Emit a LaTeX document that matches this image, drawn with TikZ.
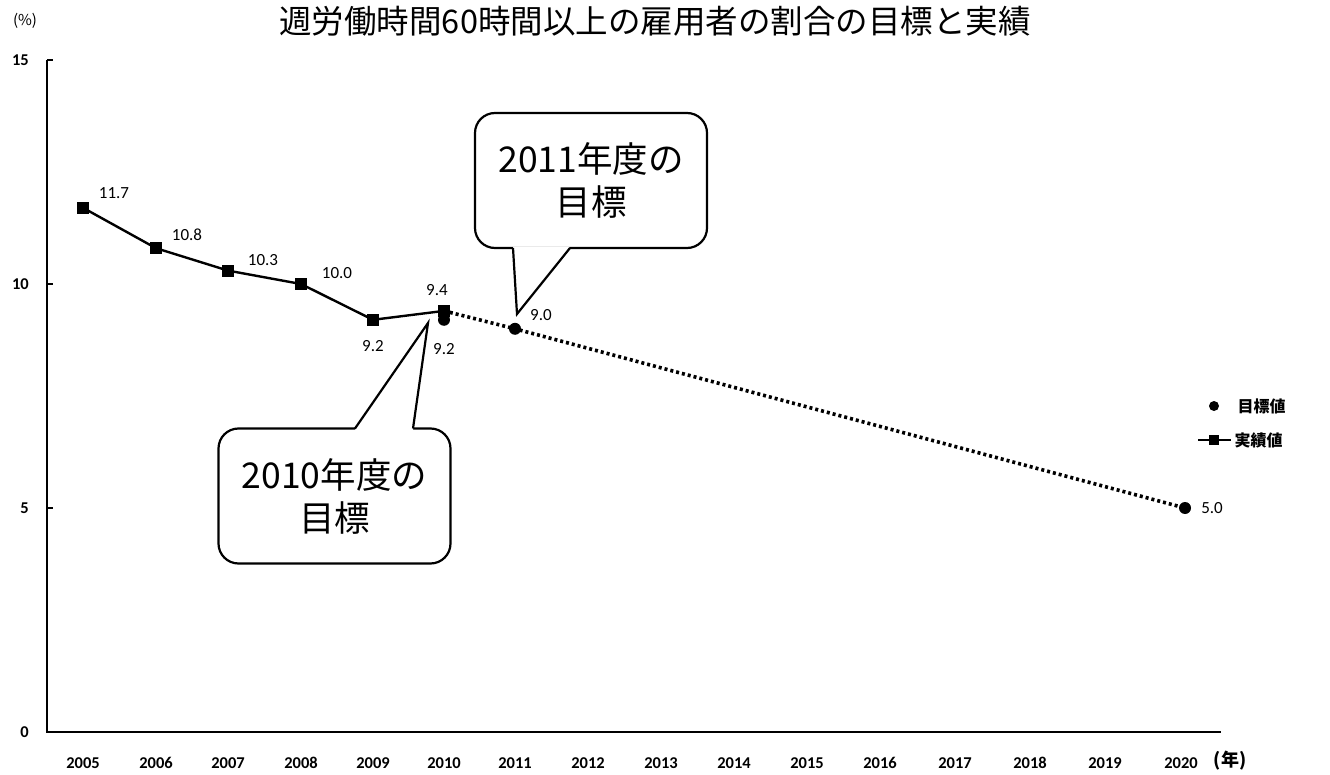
\documentclass[tikz,border=0pt]{standalone}
\usepackage{fontspec}
\setmainfont{Carlito}
\newfontfamily\jp{Noto Sans CJK JP}
\begin{document}
\begin{tikzpicture}[x=1pt,y=-1pt,
  sq/.style={rectangle,fill=black,minimum size=12pt,inner sep=0pt},
  dotm/.style={circle,fill=black,minimum size=12pt,inner sep=0pt},
  val/.style={font=\fontsize{17}{19}\selectfont,inner sep=1pt},
  tick/.style={font=\bfseries\fontsize{16.5}{18}\selectfont,inner sep=1pt},
  callout/.style={draw,line width=2.2pt,rounded corners=20pt,fill=white,
     minimum width=232pt,minimum height=135pt,align=center,
     font=\jp\fontsize{35.5}{43}\selectfont},
  actual/.style={line width=2.4pt},
  target/.style={line width=3.6pt,dash pattern=on 3pt off 3pt}]
\useasboundingbox (0,0) rectangle (1330,775);
\fill[white] (0,0) rectangle (1330,775);
% title
\node[font=\jp\fontsize{32.5}{38}\selectfont] (title) at (655,21) {週労働時間60時間以上の雇用者の割合の目標と実績};
\node[font=\jp\fontsize{15}{17}\selectfont] (pct) at (25,21) {(\%)};
% axes
\coordinate (o) at (47,732);
\coordinate (ytop) at (47,60);
\coordinate (xend) at (1221,732);
\draw[line width=1.6pt] (ytop) -- (o) -- (xend);
\foreach \v/\yy in {15/60,10/284,5/508,0/732}{
  \draw[line width=1.2pt] (47,\yy) -- (53,\yy);
  \node[tick,anchor=east] (y\v) at (30,\yy) {\v};
}
\foreach \yr/\xx in {2005/83,2006/156,2007/228,2008/301,2009/373,2010/444,2011/515,2012/588,2013/661,2014/734,2015/807,2016/880,2017/955,2018/1030,2019/1105,2020/1181}{
  \node[tick] (yr\yr) at (\xx,763) {\yr};
}
\node[font=\jp\bfseries\fontsize{18}{20}\selectfont] (nen) at (1230,761) {(年)};
% data: actual
\node[sq] (a2005) at (83,207.8) {};
\node[sq] (a2006) at (156,248.2) {};
\node[sq] (a2007) at (228,270.6) {};
\node[sq] (a2008) at (301,284) {};
\node[sq] (a2009) at (373,319.8) {};
\node[sq] (a2010) at (444,310.9) {};
% targets
\node[dotm] (t2010) at (444,319.8) {};
\node[dotm] (t2011) at (515,328.8) {};
\node[dotm] (t2020) at (1185,508) {};
\draw[actual] (a2005.center) -- (a2006.center) -- (a2007.center) -- (a2008.center) -- (a2009.center) -- (a2010.center);
\draw[target] (a2010.center) -- (t2011.center) -- (t2020.center);
% value labels
\node[val] (l2005) at (114,193) {11.7};
\node[val] (l2006) at (187,235) {10.8};
\node[val] (l2007) at (263,260) {10.3};
\node[val] (l2008) at (337,273) {10.0};
\node[val] (l2009) at (373,346) {9.2};
\node[val] (l2010) at (437,290) {9.4};
\node[val] (lt2010) at (444,349) {9.2};
\node[val] (lt2011) at (541,315) {9.0};
\node[val] (lt2020) at (1212,508) {5.0};
% callout 2011
\node[callout] (c2011) at (591,180.5) {2011年度の\\目標};
\coordinate (c11a) at (513,248);
\coordinate (c11b) at (570,248);
\coordinate (c11tip) at (517,314);
\fill[white] (513,246.6) -- (c11tip) -- (570,246.6) -- cycle;
\draw[line width=2.2pt,line join=miter] (c11a) -- (c11tip) -- (c11b);
% callout 2010
\node[callout] (c2010) at (334.5,496) {2010年度の\\目標};
\coordinate (c10a) at (355,428.5);
\coordinate (c10b) at (413,428.5);
\coordinate (c10tip) at (428,323);
\fill[white] (355,429.9) -- (c10tip) -- (413,429.9) -- cycle;
\draw[line width=2.2pt,line join=miter] (c10a) -- (c10tip) -- (c10b);
% legend
\node[circle,fill=black,minimum size=10pt,inner sep=0pt] (legdot) at (1214,406) {};
\node[font=\jp\bfseries\fontsize{16}{18}\selectfont,anchor=west] (legt) at (1234,406) {目標値};
\coordinate (legl) at (1198,440);
\coordinate (legr) at (1231,440);
\draw[line width=2pt] (legl) -- (legr);
\node[rectangle,fill=black,minimum size=10pt,inner sep=0pt] (legsq) at (1214,440) {};
\node[font=\jp\bfseries\fontsize{16}{18}\selectfont,anchor=west] (lega) at (1231,440) {実績値};
\end{tikzpicture}
\end{document}
